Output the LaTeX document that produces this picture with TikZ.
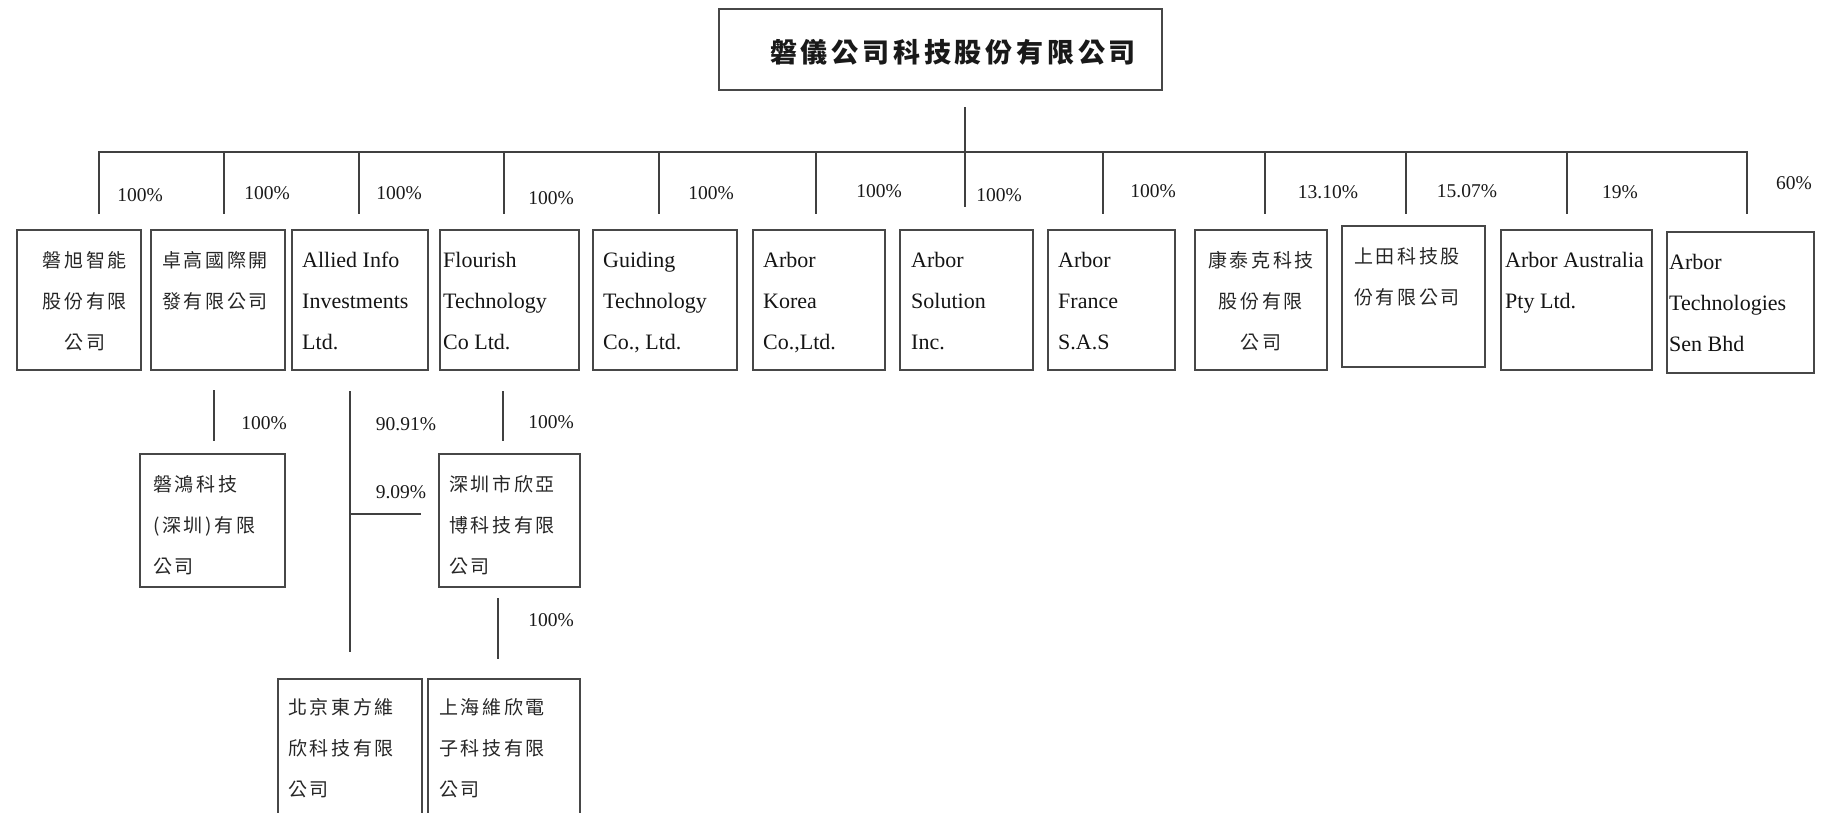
\documentclass[tikz,border=0pt]{standalone}
\usepackage{fontspec}
\setmainfont{Liberation Serif}
\newfontfamily\cjk[LetterSpace=14]{Noto Sans CJK TC}
\newfontfamily\cjkt[LetterSpace=14]{Noto Sans CJK TC}
\begin{document}
\begin{tikzpicture}[x=1pt,y=-1pt,
  box/.style={draw=black!72, line width=1.8pt, anchor=north west, inner sep=0pt, minimum height=140pt},
  conn/.style={draw=black!75, line width=1.5pt},
  en/.style={anchor=north west, inner sep=0pt, align=left, text=black!92, font=\fontsize{22}{41}\selectfont},
  zh/.style={anchor=north west, inner sep=0pt, align=left, text=black!85, font=\cjk\fontsize{19}{41}\selectfont},
  zhc/.style={anchor=north, inner sep=0pt, align=center, text=black!85, font=\cjk\fontsize{19}{41}\selectfont},
  pct/.style={inner sep=0pt, text=black!90, font=\fontsize{19.5}{22}\selectfont}]
\useasboundingbox (0,0) rectangle (1830,812);
\clip (0,0) rectangle (1830,812);

% top company
\node[box, minimum width=443pt, minimum height=81pt] (top) at (718,8) {};
\node[anchor=west, inner sep=0pt, text=black!90, font=\cjkt\bfseries\fontsize{27}{30}\selectfont] (toptxt) at (770,52) {磐儀公司科技股份有限公司};

% first row boxes
\node[box, minimum width=124pt] (b1) at (16,229) {};
\node[box, minimum width=134pt] (b2) at (150,229) {};
\node[box, minimum width=136pt] (b3) at (291,229) {};
\node[box, minimum width=139pt] (b4) at (439,229) {};
\node[box, minimum width=144pt] (b5) at (592,229) {};
\node[box, minimum width=132pt] (b6) at (752,229) {};
\node[box, minimum width=133pt] (b7) at (899,229) {};
\node[box, minimum width=127pt] (b8) at (1047,229) {};
\node[box, minimum width=132pt] (b9) at (1194,229) {};
\node[box, minimum width=143pt, minimum height=141pt] (b10) at (1341,225) {};
\node[box, minimum width=151pt] (b11) at (1500,229) {};
\node[box, minimum width=147pt, minimum height=141pt] (b12) at (1666,231) {};

\node[zhc] (t1) at ([xshift=6pt,yshift=-9.3pt]b1.north) {\strut 磐旭智能\\股份有限\\公司};
\node[zh] (t2) at ([xshift=12pt,yshift=-9.3pt]b2.north west) {\strut 卓高國際開\\發有限公司};
\node[en] (t3) at ([xshift=11pt,yshift=-9.3pt]b3.north west) {\strut Allied Info\\Investments\\Ltd.};
\node[en] (t4) at ([xshift=4pt,yshift=-9.3pt]b4.north west) {\strut Flourish\\Technology\\Co Ltd.};
\node[en] (t5) at ([xshift=11pt,yshift=-9.3pt]b5.north west) {\strut Guiding\\Technology\\Co., Ltd.};
\node[en] (t6) at ([xshift=11pt,yshift=-9.3pt]b6.north west) {\strut Arbor\\Korea\\Co.,Ltd.};
\node[en] (t7) at ([xshift=12pt,yshift=-9.3pt]b7.north west) {\strut Arbor\\Solution\\Inc.};
\node[en] (t8) at ([xshift=11pt,yshift=-9.3pt]b8.north west) {\strut Arbor\\France\\S.A.S};
\node[zhc] (t9) at ([yshift=-9.3pt]b9.north) {\strut 康泰克科技\\股份有限\\公司};
\node[zh] (t10) at ([xshift=13pt,yshift=-9.3pt]b10.north west) {\strut 上田科技股\\份有限公司};
\node[en] (t11) at ([xshift=5pt,yshift=-9.3pt]b11.north west) {\strut Arbor Australia\\Pty Ltd.};
\node[en] (t12) at ([xshift=3pt,yshift=-9.3pt]b12.north west) {\strut Arbor\\Technologies\\Sen Bhd};

% bus and drops
\coordinate (tv1) at (965,107);
\coordinate (tv2) at (965,207);
\draw[conn] (tv1) -- (tv2);
\foreach \n/\x in {1/99,2/224,3/359,4/504,5/659,6/816,8/1103,9/1265,10/1406,11/1567,12/1747}{
  \coordinate (u\n) at (\x,152);
  \coordinate (l\n) at (\x,214);
}
\draw[conn] (l1) -- (u1) -- (u12) -- (l12);
\foreach \n in {2,3,4,5,6,8,9,10,11}{\draw[conn] (u\n) -- (l\n);}

% percentages first row
\node[pct] (p1) at (140,195) {100\%};
\node[pct] (p2) at (267,193) {100\%};
\node[pct] (p3) at (399,193) {100\%};
\node[pct] (p4) at (551,198) {100\%};
\node[pct] (p5) at (711,193) {100\%};
\node[pct] (p6) at (879,191) {100\%};
\node[pct] (p7) at (999,195) {100\%};
\node[pct] (p8) at (1153,191) {100\%};
\node[pct] (p9) at (1328,192) {13.10\%};
\node[pct] (p10) at (1467,191) {15.07\%};
\node[pct] (p11) at (1620,192) {19\%};
\node[pct] (p12) at (1794,183) {60\%};

% lower boxes
\node[box, minimum width=145pt, minimum height=133pt] (k1) at (139,453) {};
\node[box, minimum width=141pt, minimum height=133pt] (s1) at (438,453) {};
\node[box, minimum width=144pt, minimum height=152pt] (bj) at (277,678) {};
\node[box, minimum width=152pt, minimum height=152pt] (sh) at (427,678) {};

\node[zh] (tk1) at ([xshift=14pt,yshift=-9.3pt]k1.north west) {\strut 磐鴻科技\\(深圳)有限\\公司};
\node[zh] (ts1) at ([xshift=11pt,yshift=-9.3pt]s1.north west) {\strut 深圳市欣亞\\博科技有限\\公司};
\node[zh] (tbj) at ([xshift=11pt,yshift=-8pt]bj.north west) {\strut 北京東方維\\欣科技有限\\公司};
\node[zh] (tsh) at ([xshift=12pt,yshift=-8pt]sh.north west) {\strut 上海維欣電\\子科技有限\\公司};

% lower connectors
\coordinate (k1a) at (214,390); \coordinate (k1b) at (214,441);
\coordinate (al1) at (350,391); \coordinate (al2) at (350,652);
\coordinate (br1) at (350,514); \coordinate (br2) at (421,514);
\coordinate (fl1) at (503,391); \coordinate (fl2) at (503,441);
\coordinate (sz1) at (498,598); \coordinate (sz2) at (498,659);
\draw[conn] (k1a) -- (k1b);
\draw[conn] (al1) -- (al2);
\draw[conn] (br1) -- (br2);
\draw[conn] (fl1) -- (fl2);
\draw[conn] (sz1) -- (sz2);

\node[pct] (q1) at (264,423) {100\%};
\node[pct] (q2) at (406,424) {90.91\%};
\node[pct] (q3) at (401,492) {9.09\%};
\node[pct] (q4) at (551,422) {100\%};
\node[pct] (q5) at (551,620) {100\%};
\end{tikzpicture}
\end{document}
